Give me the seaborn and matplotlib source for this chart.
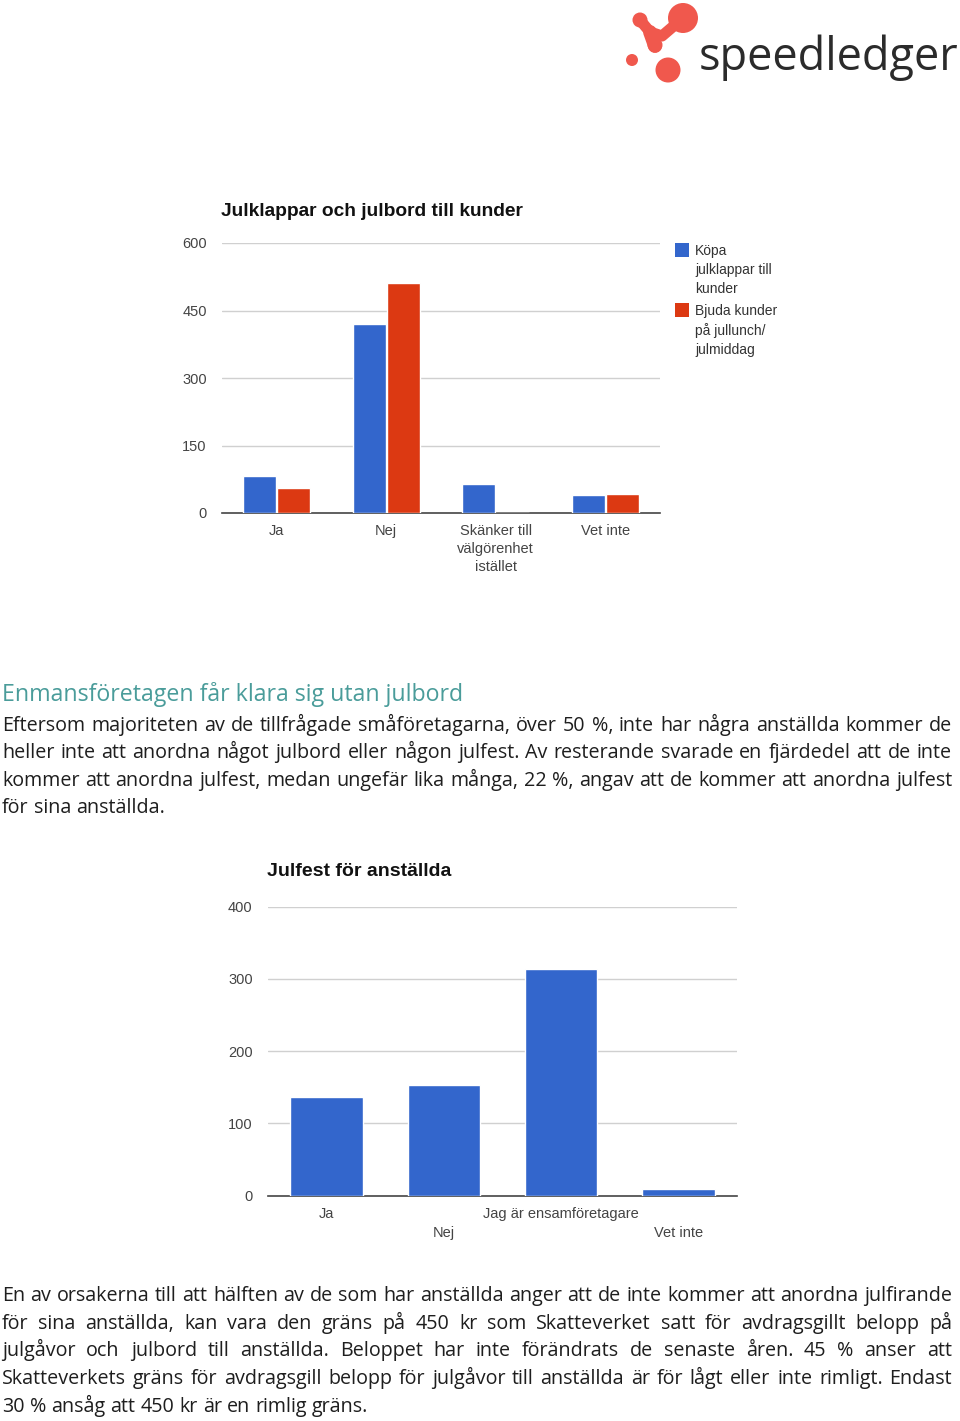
import matplotlib
matplotlib.use("Agg")
import matplotlib.pyplot as plt
from matplotlib.patches import Circle
import seaborn as sns
import pandas as pd

# ---------------- data ----------------
c1_title = "Julklappar och julbord till kunder"
c1_categories = ["Ja", "Nej", "Skänker till\nvälgörenhet\nistället", "Vet inte"]
c1_series = ["Köpa\njulklappar till\nkunder", "Bjuda kunder\npå jullunch/\njulmiddag"]
c1_buy_gifts = [82, 419, 64, 41]
c1_invite_lunch = [56, 512, 0, 43]
c1_yticks = [0, 150, 300, 450, 600]

c2_title = "Julfest för anställda"
c2_categories = ["Ja", "Nej", "Jag är ensamföretagare", "Vet inte"]
c2_values = [136, 153, 314, 9]
c2_yticks = [0, 100, 200, 300, 400]

colors = ["#3366CC", "#DC3912"]

heading = "Enmansföretagen får klara sig utan julbord"
para1 = [
    "Eftersom majoriteten av de tillfrågade småföretagarna, över 50 %, inte har några anställda kommer de",
    "heller inte att anordna något julbord eller någon julfest. Av resterande svarade en fjärdedel att de inte",
    "kommer att anordna julfest, medan ungefär lika många, 22 %, angav att de kommer att anordna julfest",
    "för sina anställda.",
]
para2 = [
    "En av orsakerna till att hälften av de som har anställda anger att de inte kommer att anordna julfirande",
    "för sina anställda, kan vara den gräns på 450 kr som Skatteverket satt för avdragsgillt belopp på",
    "julgåvor och julbord till anställda. Beloppet har inte förändrats de senaste åren. 45 % anser att",
    "Skatteverkets gräns för avdragsgill belopp för julgåvor till anställda är för lågt eller inte rimligt. Endast",
    "30 % ansåg att 450 kr är en rimlig gräns.",
]

# ---------------- figure ----------------
sns.set_theme(style="white")
plt.rcParams["font.family"] = ["Liberation Sans", "DejaVu Sans"]
W, H = 960, 1421
fig = plt.figure(figsize=(W / 100, H / 100), dpi=100)
fig.patch.set_facecolor("white")

# overlay in pixel coordinates for page decorations & text
bg = fig.add_axes([0, 0, 1, 1], zorder=0)
bg.set_xlim(0, W)
bg.set_ylim(H, 0)
bg.axis("off")
bg.patch.set_visible(False)

# logo
logo_c = "#F0584D"
bg.plot([640, 650, 662, 683], [20, 32, 36, 18], color=logo_c, lw=8, solid_capstyle="round",
        solid_joinstyle="round", zorder=1)
bg.plot([650, 655], [32, 46], color=logo_c, lw=10, solid_capstyle="round", zorder=1)
for (cx, cy, r) in [(640, 20, 7.5), (683, 18, 15), (655, 45, 7.5), (632, 60, 6), (668, 70, 12.5)]:
    bg.add_patch(Circle((cx, cy), r, color=logo_c, lw=0, zorder=1))
bg.text(699, 70, "speedledger", fontsize=32.5, color="#2b2b2b", family="Open Sans",
        va="baseline", ha="left")


def style_axes(ax, yticks):
    ax.set_ylim(yticks[0], yticks[-1])
    ax.set_yticks(yticks)
    ax.set_yticklabels([str(v) for v in yticks])
    for s in ["top", "right", "left"]:
        ax.spines[s].set_visible(False)
    ax.spines["bottom"].set_color("#444444")
    ax.spines["bottom"].set_linewidth(1.2)
    ax.grid(False)
    for v in yticks[1:]:
        ax.axhline(v, color="#d0d0d0", lw=1.0, zorder=0)
    ax.tick_params(axis="y", length=0, pad=11, labelsize=10.5, labelcolor="#444444")
    ax.tick_params(axis="x", length=0, pad=8, labelsize=10.5, labelcolor="#444444")
    ax.set_xlabel("")
    ax.set_ylabel("")
    ax.set_facecolor("none")


# ---------------- chart 1 ----------------
ax1 = fig.add_axes([222 / W, 1 - 513 / H, (660 - 222) / W, (513 - 243) / H], zorder=2)
df1 = pd.DataFrame({
    "cat": c1_categories * 2,
    "series": [c1_series[0]] * 4 + [c1_series[1]] * 4,
    "val": c1_buy_gifts + c1_invite_lunch,
})
sns.barplot(data=df1, x="cat", y="val", hue="series", palette=colors, width=0.62,
            gap=0.02, ax=ax1, legend=False, saturation=1, zorder=3)
style_axes(ax1, c1_yticks)
for lab in ax1.get_xticklabels():
    lab.set_linespacing(1.38)
    lab.set_va("top")
bg.text(221, 211, c1_title, fontsize=13.8, fontweight="bold", color="#111111",
        va="center", ha="left")
# legend
leg_y = [250, 310]
for i, (lab, yy) in enumerate(zip(c1_series, leg_y)):
    bg.add_patch(plt.Rectangle((675, yy - 7), 14, 14, color=colors[i], lw=0))
    bg.text(695, yy - 6, lab, fontsize=10, color="#333333", va="top", ha="left",
            linespacing=1.45)

# ---------------- chart 2 ----------------
ax2 = fig.add_axes([268 / W, 1 - 1195.7 / H, (737 - 268) / W, (1195.7 - 906.7) / H], zorder=2)
df2 = pd.DataFrame({"cat": c2_categories, "val": c2_values})
sns.barplot(data=df2, x="cat", y="val", color=colors[0], width=0.62, ax=ax2,
            saturation=1, zorder=3)
style_axes(ax2, c2_yticks)
ax2.set_xticks(range(len(c2_categories)))
ax2.set_xticklabels([c if i % 2 == 0 else "\n" + c for i, c in enumerate(c2_categories)],
                    linespacing=1.5)
for lab in ax2.get_xticklabels():
    lab.set_va("top")
bg.text(267, 872, c2_title, fontsize=14, fontweight="bold", color="#111111",
        va="center", ha="left")

# ---------------- page text ----------------
renderer = fig.canvas.get_renderer()
body_font = "Open Sans"
body_color = "#1e1e1e"


def measure(s, size):
    t = bg.text(0, 0, s, fontsize=size, family=body_font)
    w = t.get_window_extent(renderer).width
    t.remove()
    return w


x0, x1 = 2, 952
base = 12.0
nat = max(measure(l, base) for l in para1 + para2)
size = base * (x1 - x0 - 6) / nat
space_w = measure("a a", size) - measure("aa", size)


def justified(lines, ys):
    for i, (line, y) in enumerate(zip(lines, ys)):
        words = line.split(" ")
        texts = [bg.text(0, y + 6, w, fontsize=size, family=body_font, color=body_color,
                         va="baseline", ha="left") for w in words]
        widths = [t.get_window_extent(renderer).width for t in texts]
        last = i == len(lines) - 1
        if last or len(words) < 2:
            gap = space_w
        else:
            gap = (x1 - x0 - sum(widths)) / (len(words) - 1)
        x = x0
        for t, w in zip(texts, widths):
            t.set_x(x)
            x += w + gap


bg.text(2, 701, heading, fontsize=size * 1.17, family=body_font, color="#4A9C9A",
        va="baseline", ha="left")
justified(para1, [725, 752, 780, 807])
justified(para2, [1295, 1323, 1350, 1378, 1406])

fig.savefig("out.png", dpi=100)
